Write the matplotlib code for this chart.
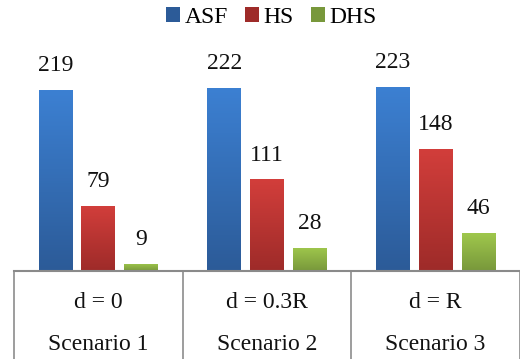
import numpy as np
import matplotlib
matplotlib.use("Agg")
import matplotlib.pyplot as plt
from matplotlib.patches import Patch
from matplotlib.colors import LinearSegmentedColormap
from matplotlib.transforms import blended_transform_factory

plt.rcParams['font.family'] = ['Liberation Serif', 'DejaVu Serif']

scenarios = ["Scenario 1", "Scenario 2", "Scenario 3"]
distances = ["d = 0", "d = 0.3R", "d = R"]
series = ["ASF", "HS", "DHS"]
asf = [219, 222, 223]
hs = [79, 111, 148]
dhs = [9, 28, 46]
values = [asf, hs, dhs]

# (top colour, bottom colour) for each series' gradient fill
grad = [("#3C80D2", "#2C5B98"),
        ("#D23E3B", "#9E2B29"),
        ("#9FC74C", "#78983B")]

fig = plt.figure(figsize=(5.2, 3.59), dpi=100)
ax = fig.add_axes([14 / 520, 88 / 359, 506 / 520, 206.5 / 359])
ax.set_xlim(-0.5, 2.5)
ax.set_ylim(0, 250)
ax.axis("off")

width = 0.2
step = 0.254
x = np.arange(len(scenarios))
for i, (vals, (ctop, cbot)) in enumerate(zip(values, grad)):
    pos = x + (i - 1) * step
    bars = ax.bar(pos, vals, width=width, color=cbot, edgecolor="none", zorder=2)
    cmap = LinearSegmentedColormap.from_list(series[i], [cbot, ctop])
    for b, v in zip(bars, vals):
        x0 = b.get_x()
        img = ax.imshow(np.linspace(0, 1, 64).reshape(-1, 1), cmap=cmap,
                        extent=[x0, x0 + width, 0, v], origin="lower",
                        aspect="auto", zorder=3)
        img.set_clip_path(b)
        ax.annotate(str(v), (b.get_x() + width / 2, v), xytext=(0, 13.5),
                    textcoords="offset points", ha="center", va="baseline",
                    fontsize=17, color="#111111")
ax.set_xlim(-0.5, 2.5)
ax.set_ylim(0, 250)

# category axis drawn as a table below the bars
ax.plot([-0.5, 2.6], [0, 0], color="#8a8a8a", lw=1.5, clip_on=False, zorder=4)
trans = blended_transform_factory(ax.transData, fig.transFigure)
for xv in [-0.5, 0.5, 1.5, 2.5]:
    ax.plot([xv, xv], [88 / 359, 0], color="#8c8c8c", lw=1.2,
            transform=trans, clip_on=False)
for xi, d, s in zip(x, distances, scenarios):
    ax.text(xi, 51 / 359, d, transform=trans, ha="center", va="baseline",
            fontsize=17, color="#111111")
    ax.text(xi, 8.5 / 359, s, transform=trans, ha="center", va="baseline",
            fontsize=17, color="#111111")

handles = [Patch(facecolor=c[1], edgecolor="none") for c in grad]
fig.legend(handles, series, loc="upper center", bbox_to_anchor=(0.522, 1.04),
           ncol=3, frameon=False, fontsize=17, handlelength=0.6,
           handleheight=0.6, handletextpad=0.2, columnspacing=0.7)

fig.savefig("out.png", dpi=100, facecolor="white")
